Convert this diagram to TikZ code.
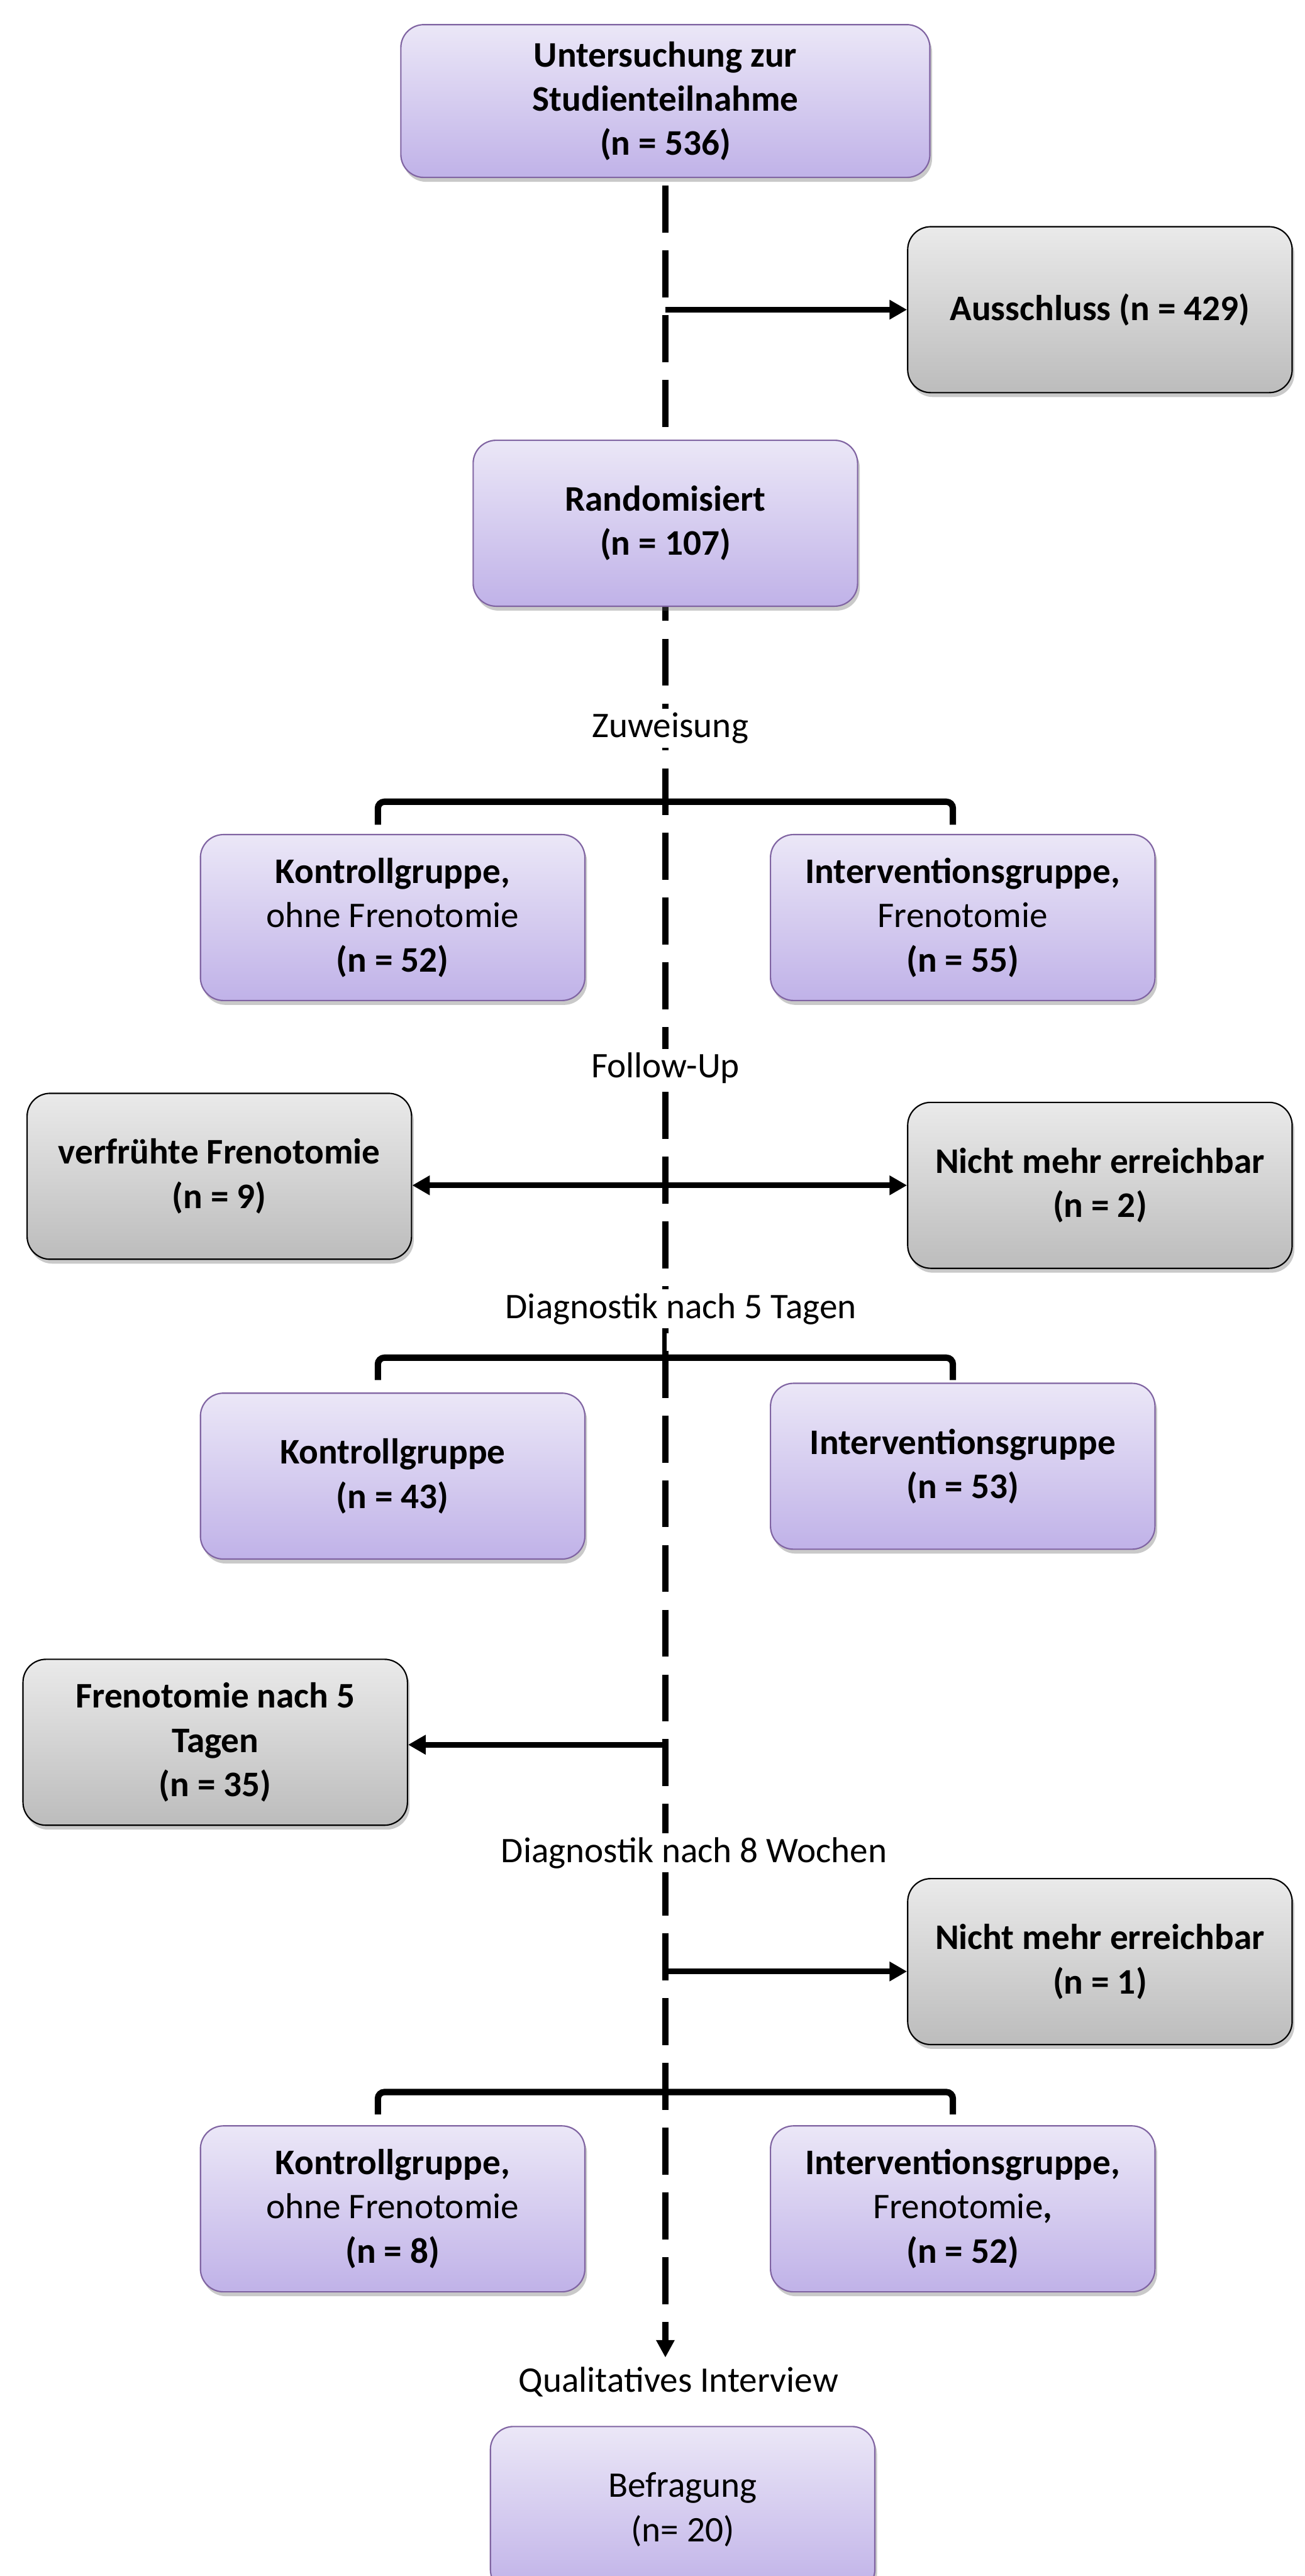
\documentclass[tikz,border=0pt]{standalone}
\usepackage{fontspec}
\setmainfont{Carlito}
\usetikzlibrary{arrows.meta,shadows}
\definecolor{ptop}{HTML}{EBE7F7}
\definecolor{pbot}{HTML}{C0B2E8}
\definecolor{pline}{HTML}{8064A2}
\definecolor{gtop}{HTML}{EAEAEA}
\definecolor{gbot}{HTML}{BCBCBC}
\begin{document}
\begin{tikzpicture}[x=0.03cm,y=-0.03cm,
  boxbase/.style={rounded corners=0.42cm, line width=0.7pt, minimum width=7.02cm, minimum height=3.03cm, align=center, inner sep=0pt, font=\fontsize{18.7pt}{23pt}\selectfont\bfseries, drop shadow={shadow xshift=0.4mm, shadow yshift=-0.8mm, opacity=0.35, fill=black!60}},
  pbox/.style={boxbase, draw=pline, top color=ptop, bottom color=pbot},
  pboxr/.style={pbox, font=\fontsize{18.7pt}{23pt}\selectfont},
  gbox/.style={boxbase, draw=black, top color=gtop, bottom color=gbot},
  lbl/.style={fill=white, inner sep=2pt, font=\fontsize{18.7pt}{23pt}\selectfont, anchor=base},
  spine/.style={line width=3pt, dash pattern=on 0.858cm off 0.324cm},
  harrow/.style={line width=3pt, -{Triangle[length=0.32cm,width=0.34cm]}},
  brack/.style={line width=3.3pt, rounded corners=0.12cm}
]
\useasboundingbox (0,0) rectangle (794,1568);
\fill[white] (0,0) rectangle (794,1568);

% spine
\coordinate (s0) at (405,113);
\coordinate (s1) at (405,1435);
\draw[spine, -{Triangle[length=0.32cm,width=0.32cm]}] (s0) -- (s1);

% brackets
\draw[brack] (230,502) -- (230,488) -- (580,488) -- (580,502);
\draw[line width=2.4pt] (404.5,488) -- (404.5,474);
\draw[brack] (230,840) -- (230,826.4) -- (580,826.4) -- (580,840);
\draw[line width=2.4pt] (404.5,826) -- (404.5,809);
\draw[brack] (230,1287) -- (230,1273.4) -- (580,1273.4) -- (580,1287);
\draw[line width=2.4pt] (404.5,1273) -- (404.5,1256);

% labels on spine
\node[lbl] (zuw) at (408,449) {Zuweisung};
\node[lbl] (fu) at (405,656) {Follow-Up};
\node[lbl] (d5) at (414.5,802.4) {Diagnostik nach 5 Tagen};
\node[lbl] (d8) at (422.5,1133.5) {Diagnostik nach 8 Wochen};
\node[lbl, fill=none] (qi) at (413,1456.2) {Qualitatives Interview};

% boxes
\node[pbox, minimum width=9.66cm, minimum height=2.79cm] (top) at (405,61.5) {Untersuchung zur\\Studienteilnahme\\(n = 536)};
\node[gbox] (excl) at (669.5,188.5) {Ausschluss (n = 429)};
\node[pbox] (rand) at (405,318.5) {Randomisiert\\(n = 107)};
\node[pbox] (kg1) at (239,558.5) {Kontrollgruppe,\\{\mdseries ohne Frenotomie}\\(n = 52)};
\node[pbox] (ig1) at (586,558.5) {Interventionsgruppe,\\{\mdseries Frenotomie}\\(n = 55)};
\node[gbox] (early) at (133.5,716) {verfrühte Frenotomie\\(n = 9)};
\node[gbox] (lost1) at (669.5,721.5) {Nicht mehr erreichbar\\(n = 2)};
\node[pbox] (kg2) at (239,898.5) {Kontrollgruppe\\(n = 43)};
\node[pbox] (ig2) at (586,892.5) {Interventionsgruppe\\(n = 53)};
\node[gbox] (fren5) at (131,1060.5) {Frenotomie nach 5\\Tagen\\(n = 35)};
\node[gbox] (lost2) at (669.5,1194) {Nicht mehr erreichbar\\(n = 1)};
\node[pbox] (kg3) at (239,1344.5) {Kontrollgruppe,\\{\mdseries ohne Frenotomie}\\(n = 8)};
\node[pbox] (ig3) at (586,1344.5) {Interventionsgruppe,\\{\mdseries Frenotomie},\\(n = 52)};
\node[pboxr] (bef) at (415.5,1527.5) {Befragung\\(n= 20)};

% side arrows
\coordinate (a1) at (405,188.5);
\draw[harrow] (a1) -- (excl.west |- a1);
\coordinate (a2) at (405,721.5);
\draw[harrow] (a2) -- (early.east |- a2);
\draw[harrow] (a2) -- (lost1.west |- a2);
\coordinate (a3) at (405,1062);
\draw[harrow] (a3) -- (fren5.east |- a3);
\coordinate (a4) at (405,1200);
\draw[harrow] (a4) -- (lost2.west |- a4);
\end{tikzpicture}
\end{document}
